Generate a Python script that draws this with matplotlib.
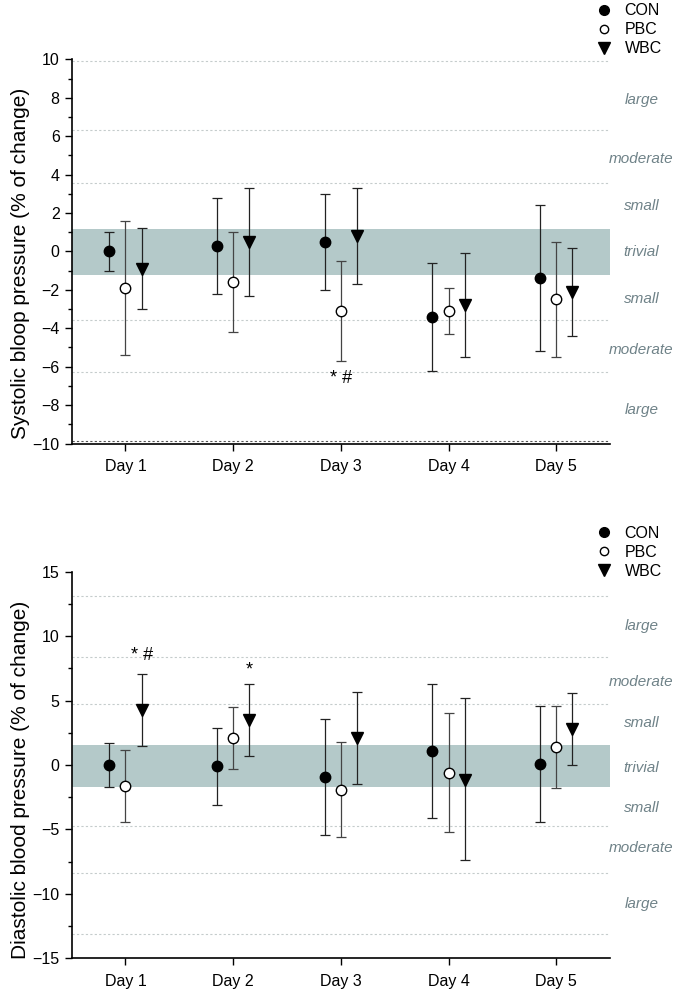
import matplotlib
matplotlib.use("Agg")
import matplotlib.pyplot as plt
from matplotlib.lines import Line2D
from matplotlib.ticker import MultipleLocator
import numpy as np

plt.rcParams['font.family'] = ['Liberation Sans', 'DejaVu Sans']

days = ["Day 1", "Day 2", "Day 3", "Day 4", "Day 5"]
groups = ["CON", "PBC", "WBC"]

# Systolic (% of change): mean, upper end, lower end of error bars
sbp_con = [0.0, 0.3, 0.5, -3.4, -1.4]
sbp_con_hi = [1.0, 2.8, 3.0, -0.6, 2.4]
sbp_con_lo = [-1.0, -2.2, -2.0, -6.2, -5.2]
sbp_pbc = [-1.9, -1.6, -3.1, -3.1, -2.5]
sbp_pbc_hi = [1.6, 1.0, -0.5, -1.9, 0.5]
sbp_pbc_lo = [-5.4, -4.2, -5.7, -4.3, -5.5]
sbp_wbc = [-0.9, 0.5, 0.8, -2.8, -2.1]
sbp_wbc_hi = [1.2, 3.3, 3.3, -0.1, 0.2]
sbp_wbc_lo = [-3.0, -2.3, -1.7, -5.5, -4.4]

# Diastolic (% of change)
dbp_con = [0.0, -0.1, -0.9, 1.1, 0.1]
dbp_con_hi = [1.7, 2.9, 3.6, 6.3, 4.6]
dbp_con_lo = [-1.7, -3.1, -5.4, -4.1, -4.4]
dbp_pbc = [-1.6, 2.1, -1.95, -0.6, 1.4]
dbp_pbc_hi = [1.2, 4.5, 1.8, 4.0, 4.6]
dbp_pbc_lo = [-4.4, -0.3, -5.6, -5.2, -1.8]
dbp_wbc = [4.3, 3.5, 2.1, -1.15, 2.8]
dbp_wbc_hi = [7.1, 6.3, 5.7, 5.2, 5.6]
dbp_wbc_lo = [1.5, 0.7, -1.5, -7.4, 0.0]

# Effect-size thresholds
sbp_trivial = (-1.25, 1.15)
sbp_thresholds = [9.9, 6.35, 3.55, -3.55, -6.3, -9.85]
sbp_effect_labels = ["large", "moderate", "small", "trivial", "small", "moderate", "large"]
sbp_effect_pos = [7.9, 4.8, 2.35, -0.05, -2.5, -5.15, -8.25]

dbp_trivial = (-1.73, 1.55)
dbp_thresholds = [13.1, 8.4, 4.72, -4.7, -8.4, -13.1]
dbp_effect_labels = ["large", "moderate", "small", "trivial", "small", "moderate", "large"]
dbp_effect_pos = [10.8, 6.45, 3.25, -0.2, -3.3, -6.45, -10.8]

# significance annotations: (day index, group index, y, text)
sbp_sig = [(2, 1, -6.6, "* #")]
dbp_sig = [(0, 2, 8.5, "* #"), (1, 2, 7.4, "*")]

offsets = [-0.15, 0.0, 0.15]
styles = [dict(marker='o', mfc='black', mec='black', ms=7.5),
          dict(marker='o', mfc='white', mec='black', ms=7.5),
          dict(marker='v', mfc='black', mec='black', ms=8.5)]
ecolors = ['#222222', '#444444', '#222222']

fig = plt.figure(figsize=(6.75, 9.9), dpi=100)
ax1 = fig.add_axes([0.106, 0.552, 0.798, 0.388])
ax2 = fig.add_axes([0.106, 0.032, 0.798, 0.3905])

band_color = '#b4c9c9'
grid_color = '#c5cccc'
label_color = '#6f8288'


def draw(ax, data, trivial, thresholds, eff_labels, eff_pos, ylim, major, minor, ylabel, label_y,
         sig, dark_bottom=None):
    x = np.arange(1, len(days) + 1)
    ax.axhspan(trivial[0], trivial[1], color=band_color, lw=0, zorder=0)
    for t in thresholds:
        c = grid_color
        if dark_bottom is not None and t == dark_bottom:
            c = '#555555'
        ax.axhline(t, color=c, lw=0.8, ls=(0, (2, 2)), zorder=0.5)
    for gi, (m, hi, lo) in enumerate(data):
        m = np.array(m); hi = np.array(hi); lo = np.array(lo)
        ax.errorbar(x + offsets[gi], m, yerr=[m - lo, hi - m], fmt='none',
                    ecolor=ecolors[gi], elinewidth=0.9, capsize=3.5, capthick=0.9, zorder=2)
        ax.plot(x + offsets[gi], m, ls='none', zorder=3, **styles[gi])
    for lab, pos in zip(eff_labels, eff_pos):
        ax.text(5.79, pos, lab, ha='center', va='center', fontsize=11, style='italic',
                color=label_color, clip_on=False)
    for di, gi, yv, txt in sig:
        ax.text(x[di] + offsets[gi], yv, txt, ha='center', va='center', fontsize=13)
    ax.set_xlim(0.5, 5.5)
    ax.set_ylim(*ylim)
    ax.set_xticks(x)
    ax.set_xticklabels(days, fontsize=11.5)
    ax.yaxis.set_major_locator(MultipleLocator(major))
    ax.yaxis.set_minor_locator(MultipleLocator(minor))
    ax.tick_params(axis='y', labelsize=11.5, direction='out', length=5, width=1)
    ax.tick_params(axis='y', which='minor', direction='out', length=3, width=1)
    ax.tick_params(axis='x', direction='out', length=5, width=1, pad=6)
    ax.spines['top'].set_visible(False)
    ax.spines['right'].set_visible(False)
    ax.spines['left'].set_linewidth(1.2)
    ax.spines['bottom'].set_linewidth(1.2)
    ax.set_ylabel(ylabel, fontsize=15, labelpad=2, y=label_y)


draw(ax1, [(sbp_con, sbp_con_hi, sbp_con_lo), (sbp_pbc, sbp_pbc_hi, sbp_pbc_lo),
           (sbp_wbc, sbp_wbc_hi, sbp_wbc_lo)],
     sbp_trivial, sbp_thresholds, sbp_effect_labels, sbp_effect_pos, (-10, 10), 2, 1,
     "Systolic bloop pressure (% of change)", 0.468, sbp_sig, dark_bottom=-9.85)
draw(ax2, [(dbp_con, dbp_con_hi, dbp_con_lo), (dbp_pbc, dbp_pbc_hi, dbp_pbc_lo),
           (dbp_wbc, dbp_wbc_hi, dbp_wbc_lo)],
     dbp_trivial, dbp_thresholds, dbp_effect_labels, dbp_effect_pos, (-15, 15), 5, 2.5,
     "Diastolic blood pressure (% of change)", 0.462, dbp_sig)

handles = [Line2D([], [], ls='none', **dict(styles[0], ms=7)),
           Line2D([], [], ls='none', **dict(styles[1], ms=6)),
           Line2D([], [], ls='none', **dict(styles[2], ms=8))]
for ax, ytop in [(ax1, 1.008), (ax2, 0.48)]:
    ax.legend(handles, groups, loc='upper left', bbox_to_anchor=(0.866, ytop),
              bbox_transform=fig.transFigure, frameon=False, fontsize=11.5,
              handlelength=1.0, handletextpad=0.8, labelspacing=0.25, borderpad=0.2)

fig.savefig("out.png", dpi=100)
